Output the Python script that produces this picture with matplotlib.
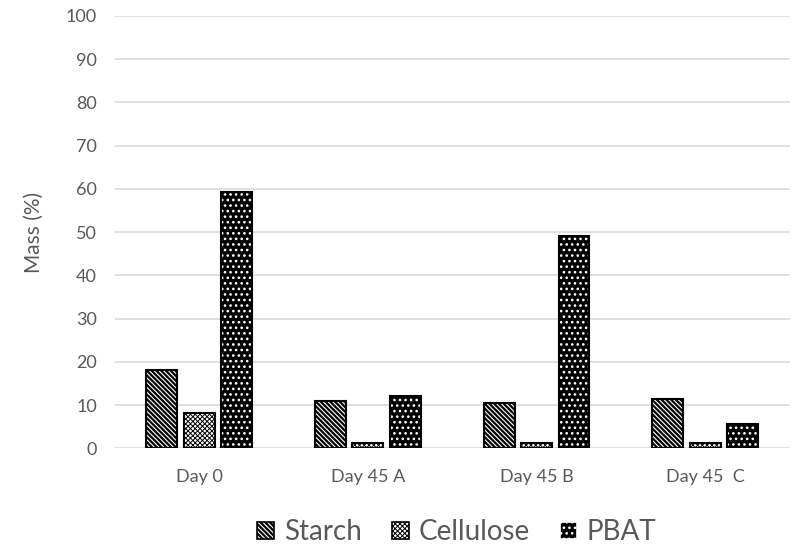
import matplotlib
matplotlib.use("Agg")
import matplotlib.pyplot as plt
import numpy as np
from matplotlib.patches import Patch

categories = ["Day 0", "Day 45 A", "Day 45 B", "Day 45  C"]
series_names = ["Starch", "Cellulose", "PBAT"]
starch = [18.2, 11.0, 10.4, 11.3]
cellulose = [8.2, 1.3, 1.2, 1.2]
pbat = [59.2, 12.0, 49.0, 5.7]
yticks = [0, 10, 20, 30, 40, 50, 60, 70, 80, 90, 100]

plt.rcParams['font.family'] = ['Lato', 'DejaVu Sans']
plt.rcParams['hatch.linewidth'] = 1.4

fig = plt.figure(figsize=(7.92, 5.46), dpi=100)
ax = fig.add_axes([0.145, 0.179, 0.852, 0.792])

x = np.arange(len(categories))
w = 0.183
step = 0.222
grey = '#595959'
H_STARCH = '\\' * 7
H_CELL = 'x' * 7
H_PBAT = '...'
LW = [1.6, 0.7, 1.1]


def hlw(patches, lw):
    for p in patches:
        if hasattr(p, 'set_hatch_linewidth'):
            p.set_hatch_linewidth(lw)


b1 = ax.bar(x - step, starch, w, facecolor='white', edgecolor='black', hatch=H_STARCH, linewidth=1.5, zorder=3)
hlw(b1, LW[0])
b2 = ax.bar(x, cellulose, w, facecolor='white', edgecolor='black', hatch=H_CELL, linewidth=1.5, zorder=3)
hlw(b2, LW[1])
b3 = ax.bar(x + step, pbat, w, facecolor='black', edgecolor='white', hatch=H_PBAT, linewidth=0, zorder=3)
hlw(b3, LW[2])
ax.bar(x + step, pbat, w, fill=False, edgecolor='black', linewidth=1.5, zorder=4)

ax.set_xlim(-0.5, 3.5)
ax.set_ylim(0, 100)
ax.set_yticks(yticks)
ax.set_xticks(x)
ax.set_xticklabels(categories)
ax.yaxis.grid(True, color='#d9d9d9', linewidth=1.2, zorder=0)
ax.set_axisbelow(True)
for s in ['top', 'right', 'left', 'bottom']:
    ax.spines[s].set_visible(False)
ax.tick_params(axis='both', length=0, labelsize=13, colors=grey)
ax.tick_params(axis='x', pad=15)
ax.tick_params(axis='y', pad=13)
ax.set_ylabel("Mass (%)", fontsize=15, color=grey, labelpad=16)

handles = [
    Patch(facecolor='white', edgecolor='black', hatch=H_STARCH, linewidth=1.2),
    Patch(facecolor='white', edgecolor='black', hatch=H_CELL, linewidth=1.2),
    Patch(facecolor='black', edgecolor='white', hatch=H_PBAT, linewidth=1.2),
]
leg = fig.legend(handles, series_names, loc='center', bbox_to_anchor=(0.577, 0.025),
                 ncol=3, frameon=False, fontsize=20, handlelength=0.6, handleheight=0.6,
                 handletextpad=0.35, columnspacing=1.1, borderpad=0)
for t in leg.get_texts():
    t.set_color(grey)
for h, lw in zip(leg.legend_handles, LW):
    hlw([h], lw)
leg.legend_handles[2].set_edgecolor('white')

fig.savefig("out.png", dpi=100)
